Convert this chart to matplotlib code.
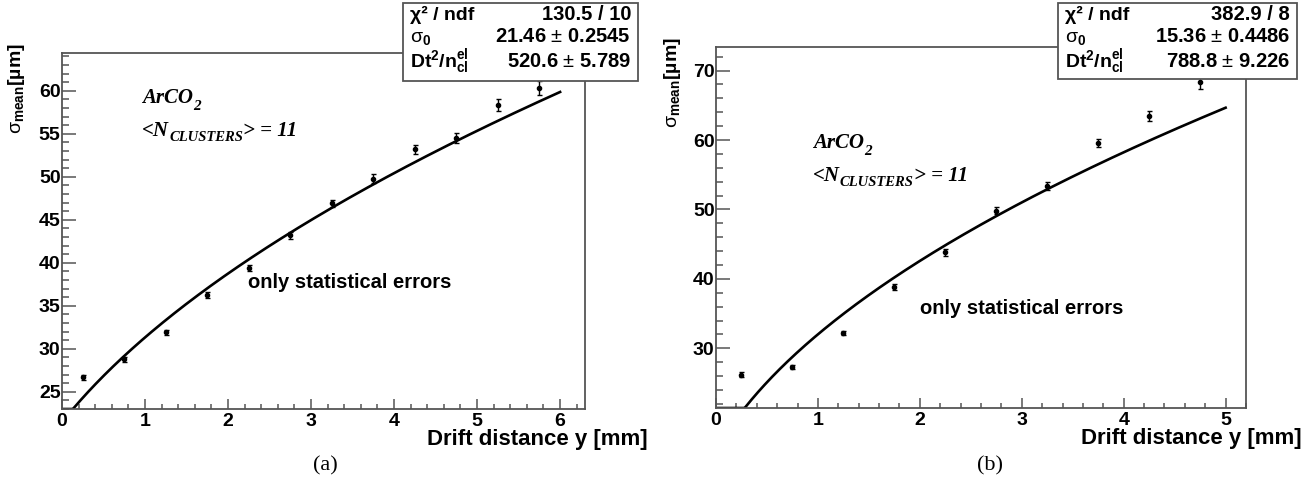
import numpy as np
import matplotlib
matplotlib.use("Agg")
import matplotlib.pyplot as plt
from matplotlib.patches import Rectangle
from matplotlib.ticker import MultipleLocator

plt.rcParams['font.family'] = ['Liberation Sans', 'DejaVu Sans']
plt.rcParams['mathtext.fontset'] = 'custom'
plt.rcParams['mathtext.rm'] = 'Liberation Sans'
plt.rcParams['mathtext.it'] = 'Liberation Sans:italic'
plt.rcParams['mathtext.bf'] = 'Liberation Sans:bold'

# panel (a)
drift_a = [0.25, 0.75, 1.25, 1.75, 2.25, 2.75, 3.25, 3.75, 4.25, 4.75, 5.25, 5.75]
sigma_a = [26.7, 28.8, 31.9, 36.3, 39.4, 43.2, 46.9, 49.8, 53.2, 54.5, 58.3, 60.3]
err_a = [0.3, 0.3, 0.3, 0.35, 0.4, 0.4, 0.45, 0.5, 0.55, 0.6, 0.7, 0.8]
fit_a = {'chi2': '130.5 / 10', 's0': 21.46, 's0_err': 0.2545, 'dt': 520.6, 'dt_err': 5.789}

# panel (b)
drift_b = [0.25, 0.75, 1.25, 1.75, 2.25, 2.75, 3.25, 3.75, 4.25, 4.75]
sigma_b = [26.2, 27.3, 32.2, 38.8, 43.8, 49.8, 53.4, 59.6, 63.5, 68.3]
err_b = [0.4, 0.35, 0.35, 0.4, 0.45, 0.5, 0.55, 0.6, 0.7, 0.9]
fit_b = {'chi2': '382.9 / 8', 's0': 15.36, 's0_err': 0.4486, 'dt': 788.8, 'dt_err': 9.226}

W, H = 1315, 490
fig = plt.figure(figsize=(W / 100, H / 100), dpi=100)
renderer = fig.canvas.get_renderer()


def fx(px):
    return px / W


def fy(py):
    return 1 - py / H


def seq_text(x, y, parts, **kw):
    # lay out pieces of text left to right (for sub/superscripts)
    for s, size, dy in parts:
        t = fig.text(fx(x), fy(y + dy), s, fontsize=size, va='baseline', ha='left', **kw)
        bb = t.get_window_extent(renderer)
        x = bb.x1


def panel(rect, xs, ys, es, fit, xlim, ylim, ymaj, ymin_, fit_hi,
          box, ylab_x, xlab_end, label_pos, note_pos, caption):
    l, t, r, b = rect
    ax = fig.add_axes([fx(l), fy(b), fx(r - l), (b - t) / H])
    frame = '#555555'
    for sp in ax.spines.values():
        sp.set_color(frame)
        sp.set_linewidth(1.3)
    ax.set_xlim(*xlim)
    ax.set_ylim(*ylim)
    ax.xaxis.set_major_locator(MultipleLocator(1))
    ax.xaxis.set_minor_locator(MultipleLocator(0.2))
    ax.yaxis.set_major_locator(MultipleLocator(ymaj))
    ax.yaxis.set_minor_locator(MultipleLocator(ymin_))
    ax.tick_params(which='both', direction='in', top=False, right=False,
                   color=frame, width=1.1, labelsize=14)
    ax.tick_params(axis='x', which='major', length=7, pad=3)
    ax.tick_params(axis='x', which='minor', length=3.5)
    ax.tick_params(axis='y', which='major', length=10, pad=1)
    ax.tick_params(axis='y', which='minor', length=5)
    for lab in ax.get_xticklabels() + ax.get_yticklabels():
        lab.set_fontweight('bold')

    # fit curve sigma = sqrt(s0^2 + Dt^2/n * y)
    xf = np.linspace(0, fit_hi, 400)
    yf = np.sqrt(fit['s0'] ** 2 + fit['dt'] * xf)
    ax.plot(xf, np.clip(yf, ylim[0], None), color='black', lw=1.9, zorder=2)
    ax.errorbar(xs, ys, yerr=es, fmt='o', color='black', ms=3,
                elinewidth=1, capsize=1.8, zorder=3)

    # stat box
    bl, bt, br, bb = box
    fig.patches.append(Rectangle((fx(bl), fy(bb)), fx(br - bl), (bb - bt) / H,
                                 transform=fig.transFigure, facecolor='white',
                                 edgecolor=frame, lw=1.3, zorder=5))
    rows = [
        ('χ² / ndf', fit['chi2']),
        (r'$\mathrm{\sigma}_{\mathbf{0}}$', '%.2f $\\pm$ %.4f' % (fit['s0'], fit['s0_err'])),
        (r'$\mathbf{Dt^2/n_{cl}^{el}}$', '%.1f $\\pm$ %.3f' % (fit['dt'], fit['dt_err'])),
    ]
    row_y = [bt + 17, bt + 39, bt + 64]
    for (name, val), yy in zip(rows, row_y):
        fig.text(fx(bl + 7), fy(yy), name, fontsize=14, fontweight='bold',
                 va='baseline', ha='left', zorder=6)
        fig.text(fx(br - 7), fy(yy), val, fontsize=14.5, fontweight='bold',
                 va='baseline', ha='right', zorder=6)

    # axis titles
    fig.text(fx(ylab_x), fy(t - 10), r'$\mathrm{\sigma}_{\mathbf{mean}}$[µm]', rotation=90,
             fontsize=14, fontweight='bold', ha='center', va='top')
    fig.text(fx(xlab_end), fy(b + 36), 'Drift distance y [mm]', fontsize=16,
             fontweight='bold', ha='right', va='baseline')

    # gas annotation
    gx, gy = label_pos
    serif = dict(family='Liberation Serif', style='italic', fontweight='bold')
    seq_text(gx, gy, [('ArCO', 15, 0), ('2', 11, 7)], **serif)
    seq_text(gx, gy + 33, [('<N', 15, 0), ('CLUSTERS', 10.5, 5), ('> = 11', 15, 0)], **serif)

    nx, ny = note_pos
    fig.text(fx(nx), fy(ny), 'only statistical errors', fontsize=14.5,
             fontweight='bold', ha='left', va='center')

    fig.text(fx(caption[0]), fy(caption[1]), caption[2], family='Liberation Serif',
             fontsize=16, ha='center', va='center')
    return ax


panel((62, 53, 585, 409), drift_a, sigma_a, err_a, fit_a, (0, 6.3), (23, 64.4), 5, 1, 6.0,
      (403, 3, 638, 81), 17, 648, (142, 103), (248, 282), (325, 466, '(a)'))
panel((716, 47, 1246, 408), drift_b, sigma_b, err_b, fit_b, (0, 5.2), (21.4, 73.4), 10, 2, 5.0,
      (1058, 3, 1297, 79), 673, 1302, (813, 148), (920, 308), (990, 466, '(b)'))

fig.savefig('out.png', dpi=100)
